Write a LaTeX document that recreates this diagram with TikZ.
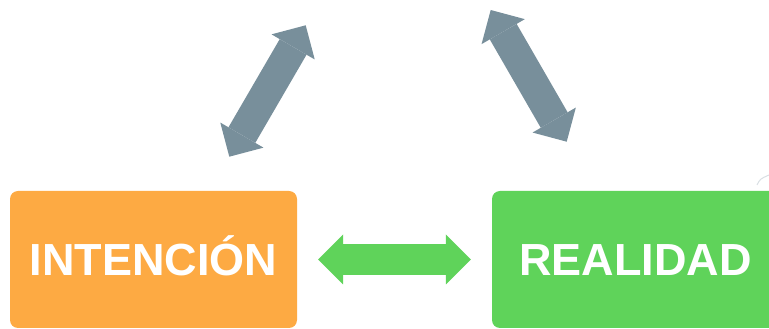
\documentclass[tikz,border=0pt]{standalone}
\usepackage{fontspec}
\setmainfont{Liberation Sans}
\usetikzlibrary{arrows.meta}

\begin{document}
\begin{tikzpicture}[x=1pt, y=1pt,
    caja/.style={rounded corners=8pt, minimum width=287pt, minimum height=137pt,
        inner sep=0pt, text=white, text height=32pt, text depth=0pt,
        font=\fontsize{45}{54}\selectfont\bfseries},
    flecha/.style={line width=31pt,
        {Triangle[length=25pt, width=50pt, line width=0pt]}-{Triangle[length=25pt, width=50pt, line width=0pt]}}]
\definecolor{naranja}{HTML}{FDAA43}
\definecolor{verde}{HTML}{5FD35A}
\definecolor{pizarra}{HTML}{788F9B}
\definecolor{tenue}{HTML}{D9DFE3}

\useasboundingbox (0, 0) rectangle (769, 329);
\clip (0, 0) rectangle (769, 329);

\node[caja, fill=naranja] (intencion) at (153.5, 69.5) {INTENCIÓN};
\node[caja, fill=verde] (realidad) at (635.5, 69.5) {REALIDAD};

\coordinate (izq-a) at (229.3, 172.3);
\coordinate (izq-b) at (305.7, 303.7);
\coordinate (der-a) at (490.7, 319);
\coordinate (der-b) at (566.7, 187.3);

\draw[flecha, verde, shorten <=21pt, shorten >=21pt] (intencion.east) -- (realidad.west);
\draw[flecha, pizarra] (izq-a) -- (izq-b);
\draw[flecha, pizarra] (der-a) -- (der-b);

\draw[tenue, line width=1pt] (757, 144) .. controls (760, 150) .. (769, 154);

\end{tikzpicture}
\end{document}
